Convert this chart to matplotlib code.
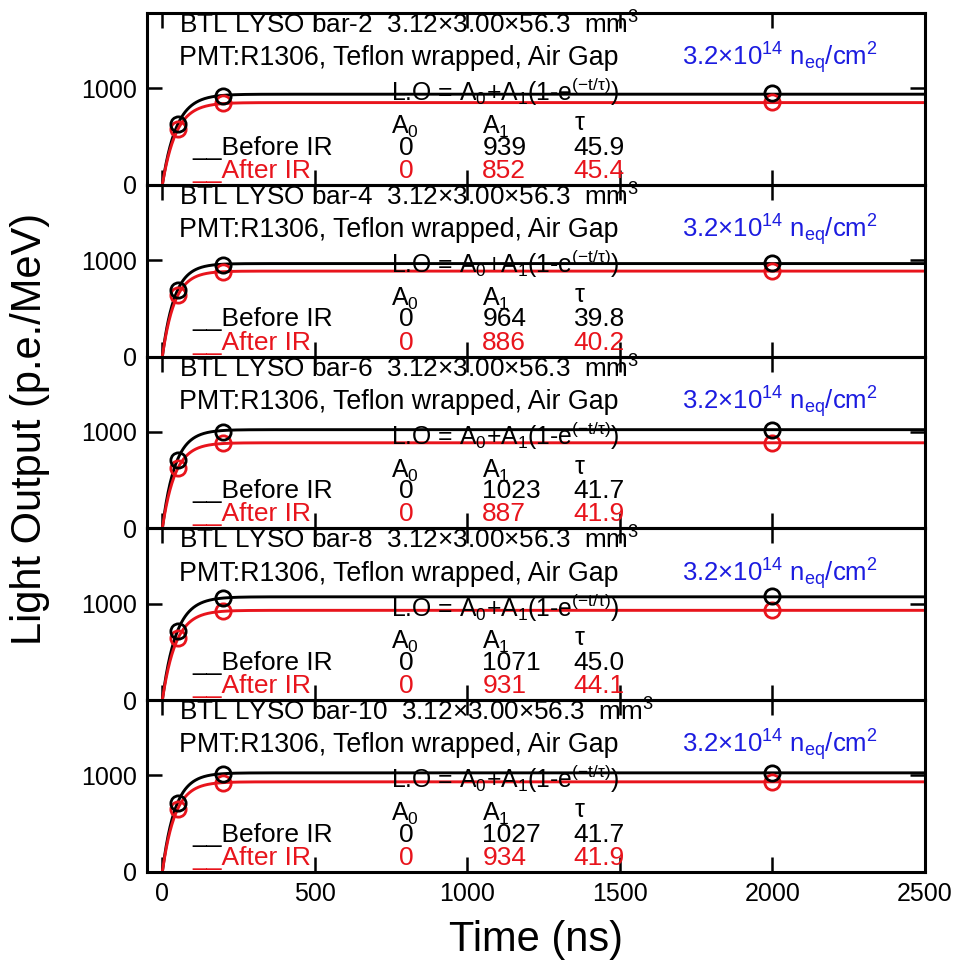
import matplotlib.pyplot as plt
import numpy as np

plt.rcParams['font.family'] = ['Liberation Sans', 'DejaVu Sans']
plt.rcParams['mathtext.fontset'] = 'custom'
plt.rcParams['mathtext.rm'] = 'Liberation Sans'
plt.rcParams['mathtext.it'] = 'Liberation Sans'
plt.rcParams['mathtext.default'] = 'regular'

# data
bars = ['bar-2', 'bar-4', 'bar-6', 'bar-8', 'bar-10']
times = [50, 200, 2000]
before_pts = [[630, 925, 950], [690, 950, 970], [710, 1000, 1020],
              [720, 1060, 1075], [715, 1010, 1030]]
after_pts = [[580, 845, 855], [640, 880, 890], [625, 880, 885],
             [640, 925, 930], [655, 925, 930]]
before_A1 = [939, 964, 1023, 1071, 1027]
before_tau = [45.9, 39.8, 41.7, 45.0, 41.7]
after_A1 = [852, 886, 887, 931, 934]
after_tau = [45.4, 40.2, 41.9, 44.1, 41.9]

RED = '#e8141c'
BLUE = '#1c1ce0'


def fit(t, a1, tau):
    return a1 * (1 - np.exp(-t / tau))


def main():
    fig, axes = plt.subplots(5, 1, sharex=True, figsize=(9.55, 9.65), dpi=100)
    fig.subplots_adjust(left=0.154, right=0.9686, top=0.9865, bottom=0.0964, hspace=0)
    tt = np.linspace(0, 2500, 2000)

    for i, ax in enumerate(axes):
        ax.set_facecolor('none')
        ax.plot(tt, fit(tt, before_A1[i], before_tau[i]), color='black', lw=2.1)
        ax.plot(tt, fit(tt, after_A1[i], after_tau[i]), color=RED, lw=2.1)
        ax.plot(times, after_pts[i], 'o', mfc='none', mec=RED, ms=11, mew=2)
        ax.plot(times, before_pts[i], 'o', mfc='none', mec='black', ms=11, mew=2)

        ax.set_xlim(-50, 2500)
        ax.set_ylim(0, 1780)
        ax.set_yticks([0, 1000])
        ax.set_xticks([0, 500, 1000, 1500, 2000, 2500])
        ax.tick_params(direction='in', length=11, width=1.8, top=True, right=True,
                       labelsize=18, pad=7)
        for s in ax.spines.values():
            s.set_linewidth(2.2)

        # annotations
        ax.text(56, 1656, 'BTL LYSO %s  3.12\u00d73.00\u00d756.3  mm$^3$' % bars[i],
                fontsize=18.8, va='center')
        ax.text(56, 1312, 'PMT:R1306, Teflon wrapped, Air Gap', fontsize=19.3, va='center')
        ax.text(1702, 1312, '3.2\u00d710$^{14}$ n$_{eq}$/cm$^2$', fontsize=18.5,
                va='center', color=BLUE)
        ax.text(751, 960, 'L.O = A$_0$+A$_1$(1-e$^{(-t/\u03c4)}$)', fontsize=17.8, va='center')
        ax.text(751, 600, 'A$_0$', fontsize=18, va='center')
        ax.text(1049, 600, 'A$_1$', fontsize=18, va='center')
        ax.text(1351, 640, '\u03c4', fontsize=18, va='center')
        ax.text(98, 385, '__Before IR', fontsize=19, va='center')
        ax.text(777, 385, '0', fontsize=19, va='center')
        ax.text(1049, 385, '%d' % before_A1[i], fontsize=19, va='center')
        ax.text(1348, 385, '%.1f' % before_tau[i], fontsize=19, va='center')
        ax.text(98, 146, '__After IR', fontsize=19, va='center', color=RED)
        ax.text(777, 146, '0', fontsize=19, va='center', color=RED)
        ax.text(1049, 146, '%d' % after_A1[i], fontsize=19, va='center', color=RED)
        ax.text(1348, 146, '%.1f' % after_tau[i], fontsize=19, va='center', color=RED)

    fig.text(0.031, 0.556, 'Light Output (p.e./MeV)', rotation=90, fontsize=30,
             ha='center', va='center')
    fig.text(0.561, 0.026, 'Time (ns)', fontsize=30, ha='center', va='center')

    fig.savefig('out.png', dpi=100)


if __name__ == '__main__':
    main()
